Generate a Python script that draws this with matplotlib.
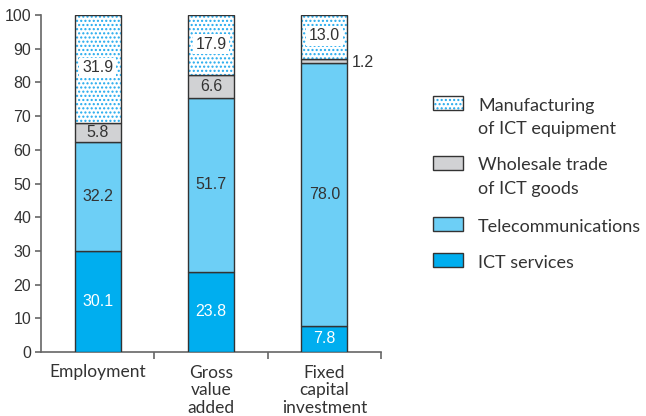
import matplotlib
matplotlib.use("Agg")
import numpy as np
import matplotlib.pyplot as plt
from matplotlib.patches import Rectangle

categories = ["Employment", "Gross\nvalue\nadded", "Fixed\ncapital\ninvestment"]
ict_services = [30.1, 23.8, 7.8]
telecom = [32.2, 51.7, 78.0]
wholesale = [5.8, 6.6, 1.2]
manufacturing = [31.9, 17.9, 13.0]

legend_labels = ["Manufacturing\nof ICT equipment", "Wholesale trade\nof ICT goods",
                 "Telecommunications", "ICT services"]

C_SERV = "#00aeef"
C_TEL = "#6dcff6"
C_WHOLE = "#d1d2d4"
C_DOT = "#22aaee"
EDGE = "#333333"
AXC = "#666666"
TXT = "#333333"

NUM_FONT = "Liberation Sans"
LAB_FONT = "Lato"
DOTS = "...."
NUM_SIZE = 11.5

plt.rcParams["hatch.linewidth"] = 1.0

fig = plt.figure(figsize=(6.46, 4.16), dpi=100)
ax = fig.add_axes([41 / 646, 64 / 416, 340 / 646, 337 / 416])

x = np.arange(len(categories))
w = 0.405

serv = np.array(ict_services)
tel = np.array(telecom)
whl = np.array(wholesale)
man = np.array(manufacturing)

ax.bar(x, serv, w, color=C_SERV, edgecolor=EDGE, linewidth=1.0, zorder=3)
ax.bar(x, tel, w, bottom=serv, color=C_TEL, edgecolor=EDGE, linewidth=1.0, zorder=3)
ax.bar(x, whl, w, bottom=serv + tel, color=C_WHOLE, edgecolor=EDGE, linewidth=1.0, zorder=3)
# dotted segment: hatch layer then outline
ax.bar(x, man, w, bottom=serv + tel + whl, color="white", edgecolor=C_DOT,
       hatch=DOTS, linewidth=0, zorder=3)
ax.bar(x, man, w, bottom=serv + tel + whl, fill=False, edgecolor=EDGE,
       linewidth=1.0, zorder=4)

# value labels
for i in range(len(categories)):
    ax.text(x[i], serv[i] / 2, f"{serv[i]:.1f}", ha="center", va="center",
            color="white", fontsize=NUM_SIZE, family=NUM_FONT, zorder=5)
    ax.text(x[i], serv[i] + tel[i] / 2, f"{tel[i]:.1f}", ha="center", va="center",
            color=TXT, fontsize=NUM_SIZE, family=NUM_FONT, zorder=5)
    top = serv[i] + tel[i] + whl[i]
    if whl[i] >= 3:
        ax.text(x[i], serv[i] + tel[i] + whl[i] / 2, f"{whl[i]:.1f}", ha="center",
                va="center", color=TXT, fontsize=NUM_SIZE, family=NUM_FONT, zorder=5)
    else:
        ax.text(x[i] + w / 2 + 0.04, top - 1.0, f"{whl[i]:.1f}", ha="left",
                va="center", color=TXT, fontsize=NUM_SIZE, family=NUM_FONT, zorder=5)
    ax.text(x[i], top + man[i] / 2 + 0.3, f"{man[i]:.1f}", ha="center", va="center",
            color=TXT, fontsize=NUM_SIZE, family=NUM_FONT, zorder=5,
            bbox=dict(facecolor="white", edgecolor="none", pad=2.0))

ax.set_xlim(-0.5, 2.5)
ax.set_ylim(0, 100)
ax.set_yticks(np.arange(0, 101, 10))
ax.set_xticks(x)
ax.set_xticklabels(categories, family=LAB_FONT, fontsize=12.5, color=TXT,
                   linespacing=1.12)
ax.set_xticks([0.5, 1.5, 2.5], minor=True)
ax.tick_params(axis="x", which="major", length=0, pad=9)
ax.tick_params(axis="x", which="minor", length=5, width=1.2, color=AXC, direction="out")
ax.tick_params(axis="y", length=4, width=1.2, color=AXC, labelsize=NUM_SIZE,
               labelcolor=TXT, pad=3)
for lbl in ax.get_yticklabels():
    lbl.set_family(NUM_FONT)
for s in ["top", "right"]:
    ax.spines[s].set_visible(False)
for s in ["left", "bottom"]:
    ax.spines[s].set_color(AXC)
    ax.spines[s].set_linewidth(1.2)

# legend drawn manually: patch bottom sits on the first text baseline
leg_x = 433 / 646
pw, ph = 30 / 646, 14 / 416
baselines = [110.5, 170.5, 231.5, 268]
styles = [
    dict(facecolor="white", edgecolor=C_DOT, hatch=DOTS, linewidth=0),
    dict(facecolor=C_WHOLE, edgecolor=EDGE, linewidth=1.0),
    dict(facecolor=C_TEL, edgecolor=EDGE, linewidth=1.0),
    dict(facecolor=C_SERV, edgecolor=EDGE, linewidth=1.0),
]
for yb, kw, lab in zip(baselines, styles, legend_labels):
    yf = 1 - (yb - 1) / 416
    fig.patches.append(Rectangle((leg_x, yf), pw, ph, transform=fig.transFigure,
                                 figure=fig, **kw))
    if "hatch" in kw:
        fig.patches.append(Rectangle((leg_x, yf), pw, ph, transform=fig.transFigure,
                                     figure=fig, fill=False, edgecolor=EDGE, linewidth=1.0))
    for j, line in enumerate(lab.split("\n")):
        fig.text(478 / 646, 1 - (yb + 23.3 * j) / 416, line, ha="left", va="baseline",
                 family=LAB_FONT, fontsize=13, color=TXT)

fig.savefig("out.png", dpi=100)
